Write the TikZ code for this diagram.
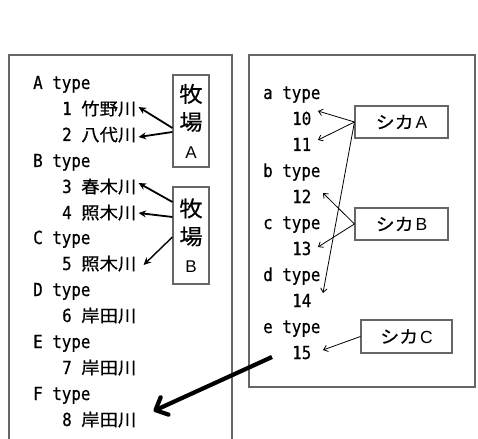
\documentclass[tikz,border=0pt]{standalone}
\usepackage{fontspec}
\usetikzlibrary{arrows.meta,calc}
\newfontfamily\jpf[FakeStretch=1.08,FakeBold=0.6]{Noto Sans CJK JP}
\newfontfamily\monof[FakeStretch=0.88,FakeBold=0.5]{DejaVu Sans Mono}
\newfontfamily\sansf{Liberation Sans}
\newcommand\kj[1]{{\jpf\fontsize{17}{17}\selectfont #1}}
\begin{document}
\begin{tikzpicture}[x=1pt,y=-1pt,
  frame/.style={draw=black!60,line width=1.1pt},
  txt/.style={anchor=base west,inner sep=1pt,text height=12pt,text depth=0pt,
    font=\monof\fontsize{18}{18}\selectfont,text=black},
  vbox/.style={draw=black!60,line width=1.1pt,minimum width=36pt,inner sep=0pt,
    align=center,font=\jpf\fontsize{21.5}{28}\selectfont},
  kbox/.style={draw=black!60,line width=1.1pt,minimum width=93pt,minimum height=32pt,inner sep=0pt},
  midarrow/.style={line width=1.8pt,-{Stealth[length=7.5pt,width=7pt]}},
  thinarrow/.style={line width=0.8pt,-{Straight Barb[length=4pt,width=6.5pt]}},
  bigarrow/.style={line width=4.2pt,-{Straight Barb[length=10pt,width=19pt,round]}}
]
\fill[white] (0,0) rectangle (478,438);
\useasboundingbox (0,0) rectangle (478,438);

% frames
\draw[frame] (9,440) -- (9,55) -- (232,55) -- (232,440);
\draw[frame] (249,55) rectangle (475,387);

% left column
\node[txt] (LA) at (32,89) {A type};
\node[txt] (L1) at (61,115) {1 \kj{竹野川}};
\node[txt] (L2) at (61,141) {2 \kj{八代川}};
\node[txt] (LB) at (32,167) {B type};
\node[txt] (L3) at (61,193) {3 \kj{春木川}};
\node[txt] (L4) at (61,219) {4 \kj{照木川}};
\node[txt] (LC) at (32,244) {C type};
\node[txt] (L5) at (61,270) {5 \kj{照木川}};
\node[txt] (LD) at (32,296) {D type};
\node[txt] (L6) at (61,322) {6 \kj{岸田川}};
\node[txt] (LE) at (32,348) {E type};
\node[txt] (L7) at (61,374) {7 \kj{岸田川}};
\node[txt] (LF) at (32,400) {F type};
\node[txt] (L8) at (61,426) {8 \kj{岸田川}};

% ranch boxes
\node[vbox,minimum height=92pt] (bA) at (191,121)
  {牧\\場\\{\sansf\fontsize{17}{28}\selectfont A}};
\node[vbox,minimum height=97pt] (bB) at (191,235.5)
  {牧\\場\\{\sansf\fontsize{17}{28}\selectfont B}};

\draw[midarrow] ([shift={(0,7)}]bA.west) -- ([shift={(1,-2)}]L1.east);
\draw[midarrow] ([shift={(0,11)}]bA.west) -- ([shift={(1,2)}]L2.east);
\draw[midarrow] ([shift={(0,-33.5)}]bB.west) -- ([shift={(1,-4)}]L3.east);
\draw[midarrow] ([shift={(0,-18.5)}]bB.west) -- ([shift={(1,0)}]L4.east);
\draw[midarrow,line width=1.4pt] ([shift={(0,1.5)}]bB.west) -- ([shift={(6,1)}]L5.east);

% right column
\node[txt] (Ra) at (262,99) {a type};
\node[txt] (R10) at (291,125) {10};
\node[txt] (R11) at (291,151) {11};
\node[txt] (Rb) at (262,177) {b type};
\node[txt] (R12) at (291,203) {12};
\node[txt] (Rc) at (262,229) {c type};
\node[txt] (R13) at (291,255) {13};
\node[txt] (Rd) at (262,281) {d type};
\node[txt] (R14) at (291,307) {14};
\node[txt] (Re) at (262,333) {e type};
\node[txt] (R15) at (291,359) {15};

% deer boxes
\node[kbox] (sA) at (401.5,122) {{\jpf\fontsize{17.5}{17.5}\selectfont シカ}\hspace{2pt}{\sansf\fontsize{17.5}{17.5}\selectfont A}};
\node[kbox] (sB) at (401.5,224) {{\jpf\fontsize{17.5}{17.5}\selectfont シカ}\hspace{2pt}{\sansf\fontsize{17.5}{17.5}\selectfont B}};
\node[kbox,minimum width=91pt,minimum height=33pt] (sC) at (406.5,336.5) {{\jpf\fontsize{17.5}{17.5}\selectfont シカ}\hspace{2pt}{\sansf\fontsize{17.5}{17.5}\selectfont C}};

\draw[thinarrow] (sA.west) -- ([shift={(5.5,-8)}]R10.east);
\draw[thinarrow] (sA.west) -- ([shift={(5.5,-5)}]R11.east);
\draw[thinarrow] (sA.west) -- ([shift={(10.5,-8)}]R14.east);
\draw[thinarrow] (sB.west) -- ([shift={(10.5,-4)}]R12.east);
\draw[thinarrow] (sB.west) -- ([shift={(5.5,-2)}]R13.east);
\draw[thinarrow] (sC.west) -- ([shift={(10.5,-3)}]R15.east);

% thick arrow
\coordinate (ts) at (272,357);
\draw[bigarrow] (ts) -- ([shift={(16,-9)}]L8.east);
\end{tikzpicture}
\end{document}
